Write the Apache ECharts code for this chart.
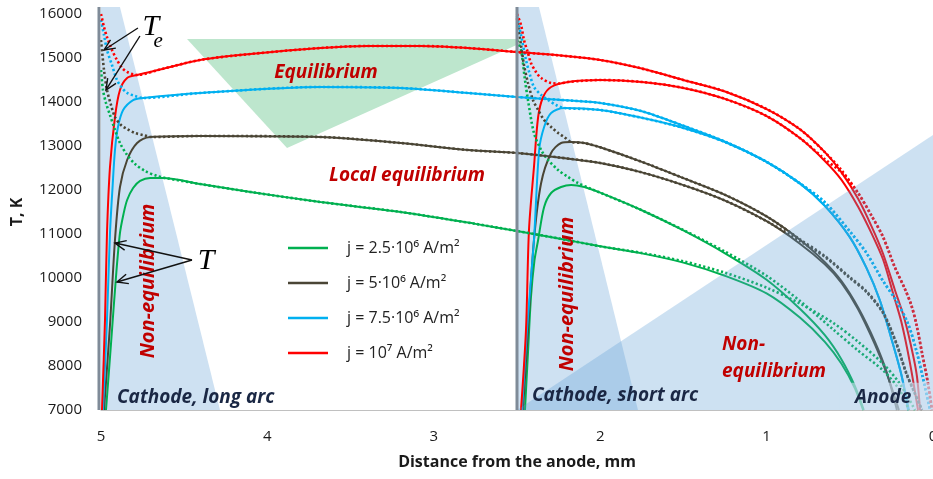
<!DOCTYPE html>
<html>
<head>
<meta charset="utf-8">
<script src="https://cdn.jsdelivr.net/npm/echarts@6/dist/echarts.min.js"></script>
<style>
  html, body { margin: 0; padding: 0; background: #fff; }
  #chart { width: 933px; height: 479px; }
</style>
</head>
<body>
<div id="chart"></div>
<script>
// Temperature profiles along the arc axis: distance from the anode (mm) vs T (K).
// Solid = heavy-particle temperature T, dotted = electron temperature Te.
const xRange = [0, 5];
const yRange = [7000, 16000];
const seriesNames = ['j = 2.5·10⁶ A/m²', 'j = 5·10⁶ A/m²', 'j = 7.5·10⁶ A/m²', 'j = 10⁷ A/m²'];

// ---- long arc (cathode at 5 mm) ----
const longGreenT = [[4.970,7000],[4.940,8500],[4.910,10023],[4.886,11023],[4.865,11450],[4.843,11773],[4.807,12045],[4.765,12205],[4.705,12273],[4.627,12273],[4.404,12136],[4.102,11955],[3.681,11727],[3.199,11500],[2.75,11230],[2.5,11068],[2.25,10900],[2.0,10720],[1.75,10560],[1.5,10350],[1.25,10050],[1.0,9650],[0.8,9100],[0.65,8550],[0.55,8050],[0.47,7500],[0.42,7000]];
const longGreenTe = [[5,14727],[4.988,14273],[4.970,13977],[4.946,13705],[4.916,13364],[4.886,13068],[4.843,12795],[4.795,12591],[4.735,12432],[4.663,12318],[4.614,12273],[4.404,12136],[4.102,11955],[3.681,11727],[3.199,11500],[2.75,11230],[2.5,11068],[2.25,10900],[2.0,10720],[1.75,10570],[1.5,10380],[1.25,10120],[1.0,9780],[0.8,9420],[0.6,8980],[0.45,8550],[0.3,8050],[0.2,7600],[0.108,7000]];
const longDarkT = [[4.982,7000],[4.946,8932],[4.916,10864],[4.886,12068],[4.843,12682],[4.783,13068],[4.705,13205],[4.404,13227],[3.681,13205],[3.199,13068],[2.795,12909],[2.5,12841],[2.25,12740],[2.0,12614],[1.75,12400],[1.5,12110],[1.25,11760],[1.0,11290],[0.8,10780],[0.65,10310],[0.55,9890],[0.45,9290],[0.35,8500],[0.28,7850],[0.205,7000]];
const longDarkTe = [[5,15409],[4.982,14727],[4.964,14273],[4.940,13932],[4.916,13659],[4.880,13477],[4.843,13386],[4.795,13295],[4.747,13250],[4.693,13205],[4.404,13227],[3.681,13205],[3.199,13068],[2.795,12909],[2.5,12841],[2.25,12740],[2.0,12614],[1.75,12400],[1.5,12110],[1.25,11760],[1.0,11290],[0.8,10840],[0.65,10480],[0.5,10000],[0.4,9680],[0.3,9200],[0.22,8500],[0.16,7820],[0.11,7380],[0.066,7000]];
const longBlueT = [[4.988,7000],[4.964,9045],[4.946,11023],[4.930,12100],[4.916,12909],[4.898,13432],[4.867,13818],[4.807,14045],[4.747,14091],[4.404,14205],[3.681,14341],[3.199,14318],[2.795,14205],[2.5,14114],[2.25,14050],[2.0,13977],[1.75,13790],[1.5,13460],[1.25,13100],[1.0,12640],[0.8,12150],[0.65,11640],[0.5,10930],[0.4,10230],[0.32,9500],[0.25,8620],[0.19,7800],[0.145,7000]];
const longBlueTe = [[5,15864],[4.982,15523],[4.964,15182],[4.934,14841],[4.904,14500],[4.873,14318],[4.843,14205],[4.795,14136],[4.747,14091],[4.404,14205],[3.681,14341],[3.199,14318],[2.795,14205],[2.5,14114],[2.25,14050],[2.0,13977],[1.75,13790],[1.5,13460],[1.25,13100],[1.0,12640],[0.8,12150],[0.65,11720],[0.5,11060],[0.4,10570],[0.3,9930],[0.22,9480],[0.15,8960],[0.1,8350],[0.06,7720],[0.018,7000]];
const longRedT = [[4.994,7000],[4.976,9045],[4.964,11023],[4.946,12523],[4.916,13659],[4.886,14273],[4.843,14545],[4.783,14614],[4.645,14740],[4.404,14955],[4.102,15091],[3.681,15227],[3.398,15273],[3.078,15273],[2.795,15227],[2.5,15136],[2.25,15060],[2.0,14955],[1.75,14760],[1.5,14500],[1.25,14240],[1.0,13840],[0.8,13380],[0.65,12860],[0.55,12400],[0.45,11800],[0.37,11180],[0.3,10550],[0.23,9740],[0.17,9050],[0.12,8250],[0.096,7750],[0.078,7000]];
const longRedTe = [[5,16000],[4.982,15705],[4.964,15477],[4.934,15182],[4.904,14955],[4.873,14773],[4.843,14682],[4.807,14630],[4.783,14614],[4.645,14740],[4.404,14955],[4.102,15091],[3.681,15227],[3.398,15273],[3.078,15273],[2.795,15227],[2.5,15136],[2.25,15060],[2.0,14955],[1.75,14760],[1.5,14500],[1.25,14240],[1.0,13840],[0.8,13380],[0.65,12860],[0.55,12450],[0.45,11930],[0.37,11420],[0.3,10930],[0.23,10250],[0.17,9760],[0.13,9380],[0.1,8950],[0.066,8300],[0.03,7600],[0.006,7000]];

// ---- short arc (cathode at 2.5 mm) ----
const shortGreenT = [[2.452,7000],[2.434,8300],[2.416,9568],[2.395,10400],[2.373,10864],[2.337,11614],[2.295,11932],[2.235,12068],[2.175,12114],[2.096,12068],[2.0,11940],[1.75,11540],[1.5,11080],[1.25,10560],[1.0,9960],[0.8,9300],[0.65,8700],[0.55,8150],[0.47,7550],[0.416,7000]];
const shortGreenTe = [[2.5,15400],[2.476,15182],[2.452,14500],[2.434,14045],[2.398,13295],[2.355,12909],[2.313,12682],[2.253,12455],[2.193,12295],[2.133,12159],[2.054,12023],[2.0,11940],[1.75,11540],[1.5,11090],[1.25,10600],[1.0,10050],[0.8,9480],[0.6,8830],[0.45,8350],[0.3,7900],[0.2,7450],[0.145,7000]];
const shortDarkT = [[2.464,7000],[2.434,8818],[2.398,10864],[2.355,12159],[2.295,12841],[2.235,13068],[2.175,13091],[2.096,13068],[2.0,12970],[1.75,12640],[1.5,12270],[1.25,11890],[1.0,11400],[0.8,10870],[0.65,10360],[0.55,9930],[0.45,9330],[0.35,8560],[0.28,7880],[0.217,7000]];
const shortDarkTe = [[2.5,15900],[2.476,15295],[2.458,14841],[2.434,14432],[2.404,14045],[2.373,13818],[2.337,13591],[2.295,13432],[2.253,13295],[2.217,13205],[2.175,13091],[2.096,13068],[2.0,12970],[1.75,12640],[1.5,12270],[1.25,11890],[1.0,11400],[0.8,10880],[0.65,10500],[0.5,10020],[0.4,9700],[0.3,9220],[0.22,8520],[0.16,7840],[0.11,7390],[0.066,7000]];
const shortBlueT = [[2.470,7000],[2.440,8818],[2.398,10864],[2.367,12909],[2.337,13432],[2.295,13750],[2.217,13864],[2.0,13818],[1.75,13640],[1.5,13410],[1.25,13090],[1.0,12640],[0.8,12150],[0.65,11640],[0.5,10930],[0.4,10230],[0.32,9500],[0.25,8620],[0.19,7800],[0.15,7000]];
const shortBlueTe = [[2.5,15950],[2.476,15523],[2.446,14955],[2.422,14614],[2.398,14341],[2.355,14159],[2.313,14045],[2.265,13932],[2.217,13864],[2.0,13818],[1.75,13640],[1.5,13410],[1.25,13090],[1.0,12640],[0.8,12150],[0.65,11720],[0.5,11060],[0.4,10570],[0.3,9930],[0.22,9480],[0.15,8960],[0.1,8350],[0.06,7720],[0.018,7000]];
const shortRedT = [[2.476,7000],[2.446,8818],[2.428,11091],[2.398,12523],[2.373,13659],[2.343,14114],[2.295,14341],[2.193,14455],[2.0,14500],[1.75,14455],[1.5,14320],[1.25,14070],[1.0,13680],[0.8,13180],[0.65,12660],[0.55,12230],[0.45,11620],[0.37,11020],[0.3,10420],[0.24,9650],[0.19,9000],[0.14,8100],[0.09,7000]];
const shortRedTe = [[2.5,16000],[2.476,15750],[2.458,15409],[2.434,15114],[2.416,14886],[2.386,14682],[2.355,14545],[2.295,14432],[2.247,14420],[2.193,14455],[2.0,14500],[1.75,14455],[1.5,14320],[1.25,14070],[1.0,13680],[0.8,13180],[0.65,12700],[0.55,12400],[0.45,11930],[0.37,11420],[0.3,10930],[0.23,10250],[0.17,9760],[0.13,9380],[0.1,8950],[0.066,8300],[0.03,7600],[0.006,7000]];

const colors = ['#00b050', '#4a4535', '#00b0f0', '#ff0000'];
const FONT = '"Open Sans", "DejaVu Sans", sans-serif';
const RED_TEXT = '#c00000';
const NAVY_TEXT = '#1a2744';

const tCurves = [
  [longGreenT, shortGreenT], [longDarkT, shortDarkT],
  [longBlueT, shortBlueT], [longRedT, shortRedT]
];
const teCurves = [
  [longGreenTe, shortGreenTe], [longDarkTe, shortDarkTe],
  [longBlueTe, shortBlueTe], [longRedTe, shortRedTe]
];

function lineSeries(name, color, data, dotted) {
  return {
    type: 'line', name: name, data: data, symbol: 'none', showSymbol: false,
    smooth: 0.3,
    z: 2, silent: true, clip: true,
    lineStyle: dotted
      ? { color: color, width: 2.6, type: [2.2, 2.4] }
      : { color: color, width: 2 },
    itemStyle: { color: color }
  };
}

const series = [];
tCurves.forEach((pair, i) => pair.forEach(d => series.push(lineSeries(seriesNames[i], colors[i], d, false))));
teCurves.forEach((pair, i) => pair.forEach(d => series.push(lineSeries(seriesNames[i], colors[i], d, true))));

// Shaded regions drawn beneath the curves
function renderBack(params, api) {
  const P = p => api.coord(p);
  const poly = (pts, fill) => ({ type: 'polygon', shape: { points: pts.map(P) }, style: { fill: fill } });
  return {
    type: 'group',
    children: [
      poly([[5, 16160], [4.886, 16160], [4.285, 7000], [5, 7000]], '#cee1f2'),
      poly([[2.5, 16160], [2.368, 16160], [1.773, 7000], [2.5, 7000]], '#cee1f2'),
      poly([[4.483, 15432], [2.422, 15432], [3.882, 12955]], '#bde6cd')
    ]
  };
}

// Anode zone, electrode walls, labels and arrows drawn above the curves
function renderFront(params, api) {
  const P = p => api.coord(p);
  const children = [];
  children.push({ type: 'polygon', shape: { points: [[2.5, 7000], [0, 13250], [0, 7000]].map(P) },
    style: { fill: 'rgba(91,155,213,0.30)' } });
  children.push({ type: 'polygon', shape: { points: [[0.559, 7000], [0.559, 7620], [0, 7620], [0, 7000]].map(P) },
    style: { fill: 'rgba(206,225,242,0.6)' } });
  [[5, -2], [2.5, 0]].forEach(([x, dx]) => children.push({ type: 'line',
    shape: { x1: P([x, 7000])[0] + dx, y1: P([x, 7000])[1], x2: P([x, 16160])[0] + dx, y2: P([x, 16160])[1] },
    style: { stroke: '#7f8b98', lineWidth: 3 } }));

  const text = (p, str, font, fill, align, rot, lh) => {
    const q = P(p);
    children.push({ type: 'text', x: q[0], y: q[1], rotation: rot || 0,
      style: { text: str, font: font, fill: fill, align: align || 'center', verticalAlign: 'middle',
        textAlign: align || 'center', textVerticalAlign: 'middle', lineHeight: lh || undefined } });
  };
  const bi = size => 'italic bold ' + size + 'px ' + FONT;
  text([3.648, 14659], 'Equilibrium', bi(19), RED_TEXT);
  text([3.161, 12318], 'Local equilibrium', bi(19), RED_TEXT);
  text([4.718, 9932], 'Non-equilibrium', bi(20), RED_TEXT, 'center', Math.PI / 2);
  text([2.200, 9636], 'Non-equilibrium', bi(20), RED_TEXT, 'center', Math.PI / 2);
  text([1.268, 8170], 'Non-\nequilibrium', bi(19), RED_TEXT, 'left', 0, 27);
  text([4.904, 7273], 'Cathode, long arc', bi(19), NAVY_TEXT, 'left');
  text([2.410, 7318], 'Cathode, short arc', bi(19), NAVY_TEXT, 'left');
  text([0.469, 7273], 'Anode', bi(19), NAVY_TEXT, 'left');

  const serif = '"Liberation Serif", "DejaVu Serif", serif';
  text([4.700, 15705], 'T', 'italic 30px ' + serif, '#000');
  text([4.657, 15386], 'e', 'italic 21px ' + serif, '#000');
  text([4.369, 10386], 'T', 'italic 30px ' + serif, '#000');

  const arrow = (from, to) => {
    const a = P(from), b = P(to);
    const ang = Math.atan2(b[1] - a[1], b[0] - a[0]);
    const L = 12, w = 0.42;
    const h1 = [b[0] - L * Math.cos(ang - w), b[1] - L * Math.sin(ang - w)];
    const h2 = [b[0] - L * Math.cos(ang + w), b[1] - L * Math.sin(ang + w)];
    children.push({ type: 'polyline', shape: { points: [a, b] }, style: { stroke: '#111', lineWidth: 1.4, fill: null } });
    children.push({ type: 'polyline', shape: { points: [h1, b, h2] }, style: { stroke: '#111', lineWidth: 1.4, fill: null } });
  };
  arrow([4.778, 15682], [4.982, 15182]);
  arrow([4.766, 15500], [4.970, 14273]);
  arrow([4.453, 10409], [4.916, 10795]);
  arrow([4.453, 10409], [4.904, 9909]);
  return { type: 'group', children: children };
}

series.push({ type: 'custom', coordinateSystem: 'cartesian2d', data: [[0, 7000]], z: 1, silent: true, clip: false, renderItem: renderBack });
series.push({ type: 'custom', coordinateSystem: 'cartesian2d', data: [[0, 7000]], z: 5, silent: true, clip: false, renderItem: renderFront });

const chart = echarts.init(document.getElementById('chart'), null, { renderer: 'canvas' });
chart.setOption({
  animation: false,
  backgroundColor: '#ffffff',
  grid: { left: 101, right: 0, top: 14, bottom: 69, containLabel: false, outerBoundsMode: 'none' },
  legend: {
    data: seriesNames, orient: 'vertical', left: 283, top: 235,
    icon: 'rect', itemWidth: 40, itemHeight: 2.5, itemGap: 19, selectedMode: false,
    textStyle: { fontSize: 16, lineHeight: 16, color: '#222', fontFamily: FONT, padding: [0, 0, 0, 14] }
  },
  xAxis: {
    type: 'value', min: xRange[0], max: xRange[1], interval: 1, inverse: true,
    axisLine: { show: true, lineStyle: { color: '#c0c0c0', width: 1 } },
    axisTick: { show: false }, splitLine: { show: false },
    axisLabel: { margin: 19, fontSize: 15, color: '#1a1a1a', fontFamily: FONT },
    name: 'Distance from the anode, mm', nameLocation: 'middle', nameGap: 44,
    nameTextStyle: { fontSize: 16, fontWeight: 'bold', color: '#1a1a1a', fontFamily: FONT }
  },
  yAxis: {
    type: 'value', min: yRange[0], max: yRange[1], interval: 1000,
    axisLine: { show: false }, axisTick: { show: false }, splitLine: { show: false },
    axisLabel: { margin: 19, fontSize: 15, color: '#1a1a1a', fontFamily: FONT, formatter: v => String(v) },
    name: 'T, K', nameLocation: 'middle', nameRotate: 90, nameGap: 76,
    nameTextStyle: { fontSize: 16, fontWeight: 'bold', color: '#1a1a1a', fontFamily: FONT }
  },
  series: series
});
</script>
</body>
</html>
